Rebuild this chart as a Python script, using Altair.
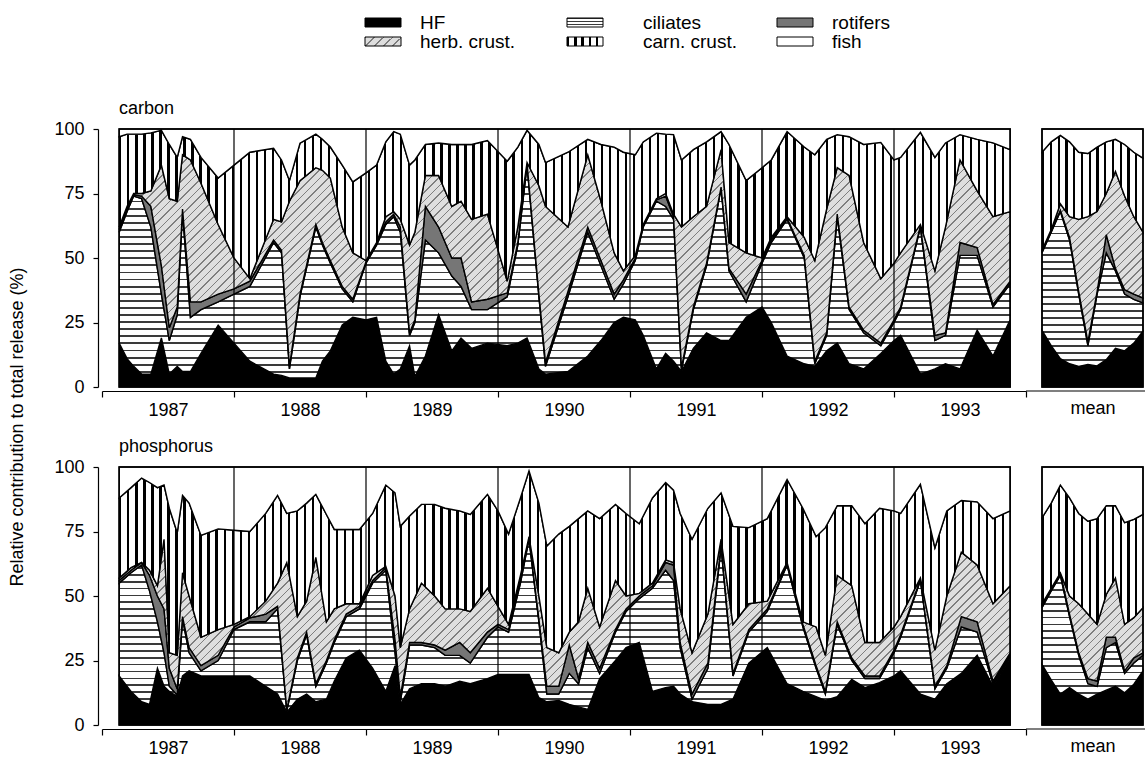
import math
import altair as alt
import pandas as pd

NAMES = ["HF", "ciliates", "rotifers", "herb. crust.", "carn. crust.", "fish"]

# ---------------- carbon: sampling dates (decimal years) and cumulative tops (%) ----------------
c_t = [1987.13, 1987.19, 1987.24, 1987.30, 1987.37, 1987.45, 1987.51, 1987.57, 1987.61, 1987.67, 1987.75, 1987.88,
       1988.00, 1988.12, 1988.30, 1988.36, 1988.42, 1988.50, 1988.62, 1988.67, 1988.73, 1988.82, 1988.90,
       1989.00, 1989.08, 1989.15, 1989.21, 1989.26, 1989.33, 1989.37, 1989.45, 1989.55, 1989.65, 1989.72, 1989.80, 1989.92,
       1990.07, 1990.15, 1990.22, 1990.31, 1990.36, 1990.53, 1990.68, 1990.78, 1990.88, 1990.95,
       1991.04, 1991.10, 1991.20, 1991.27, 1991.33, 1991.39, 1991.48, 1991.58, 1991.69, 1991.75, 1991.88,
       1992.00, 1992.07, 1992.19, 1992.32, 1992.40, 1992.49, 1992.57, 1992.66, 1992.77, 1992.90,
       1993.00, 1993.05, 1993.20, 1993.31, 1993.39, 1993.50, 1993.63, 1993.75, 1993.88]
c_hf = [17, 11, 8, 5, 5, 19, 5, 8, 6, 6, 13, 24,
        17, 10, 5, 4.5, 3.5, 3.5, 3.5, 10, 14, 24, 27,
        26, 27, 10, 5, 7, 16, 4, 12, 28, 14, 19, 15, 17,
        16, 17, 19, 7, 5, 6, 12, 18, 25, 27,
        26, 20, 7, 13, 10, 6, 15, 21, 18, 18, 27,
        31, 25, 12, 9, 8, 14, 17, 9, 7, 13,
        18, 20, 5, 7, 9, 7, 22, 12, 26]
c_cil = [60, 68, 74, 73, 62, 36, 18, 28, 68, 27, 30, 33,
         36, 39, 56, 52, 7, 35, 62, 55, 48, 38, 33,
         48, 55, 63, 66, 60, 20, 25, 57, 52, 43, 39, 30, 30,
         35, 55, 86, 35, 8, 35, 60, 47, 34, 40,
         49, 62, 72, 70, 65, 6.5, 30, 47, 77, 45, 33,
         48, 56, 65, 50, 9, 20, 66, 30, 21, 16,
         25, 30, 62, 18, 20, 51, 51, 31, 40]
c_rot = [61, 69, 74.5, 74, 70, 47, 23, 31, 69, 33, 33, 36,
         38, 41, 57, 53, 8, 36, 63, 56, 49, 39, 34,
         48.5, 55.5, 64, 67, 62, 21, 26, 70, 62, 50, 50, 33, 34,
         36.5, 56, 86.5, 36, 9.5, 37, 62, 49, 36, 41.5,
         50, 62.5, 72.5, 74, 66, 7.5, 31, 48, 77.5, 46, 36,
         49, 57, 65.5, 51, 10, 21, 67, 31, 22, 17,
         26, 31, 62.5, 20, 21, 56, 54, 32, 41]
c_herb = [62, 70, 75, 75, 76, 86, 73, 72, 90, 88, 79, 63,
          50, 42, 65, 64, 72, 80, 85, 84, 81, 62, 52,
          49, 56, 66, 68, 65, 55, 60, 82, 82, 70, 72, 65, 67,
          41, 62, 87, 78, 70, 62, 90, 72, 52, 45,
          51, 63, 73, 75, 67, 62, 66, 70, 92, 56, 52,
          50, 58, 66, 58, 49, 69, 85, 82, 56, 42,
          48, 52, 63, 45, 62, 88, 76, 66, 68]
c_carn = [97, 98, 98, 98, 98.5, 99.5, 94, 89, 97, 96, 89, 81,
          86, 91, 92.5, 88, 80, 94.5, 98, 96, 93, 86, 79.5,
          83, 86, 95, 99, 98, 86, 88, 94, 94.6, 94, 94, 94, 95.5,
          87.5, 93, 99.5, 94, 87, 91, 96, 94, 93, 91,
          90, 95, 98.4, 98, 97.8, 88, 92, 95, 99, 94, 80,
          85, 88, 99, 93, 90, 96, 97.8, 97, 94, 94.8,
          88, 89, 98.7, 89, 94.6, 97.8, 96, 94.6, 92]

# ---------------- phosphorus ----------------
p_t = [1987.13, 1987.22, 1987.30, 1987.36, 1987.42, 1987.47, 1987.51, 1987.57, 1987.61, 1987.66, 1987.75, 1987.88,
       1988.00, 1988.12, 1988.24, 1988.33, 1988.40, 1988.48, 1988.55, 1988.62, 1988.70, 1988.76, 1988.85, 1988.95,
       1989.05, 1989.15, 1989.22, 1989.26, 1989.33, 1989.42, 1989.52, 1989.60, 1989.71, 1989.79, 1989.92,
       1990.00, 1990.08, 1990.17, 1990.235, 1990.31, 1990.37, 1990.46, 1990.54, 1990.61, 1990.68, 1990.77, 1990.89, 1990.97,
       1991.07, 1991.17, 1991.27, 1991.33, 1991.38, 1991.47, 1991.59, 1991.69, 1991.78, 1991.90,
       1992.04, 1992.19, 1992.31, 1992.41, 1992.48, 1992.57, 1992.68, 1992.78, 1992.89,
       1993.00, 1993.05, 1993.20, 1993.31, 1993.40, 1993.51, 1993.63, 1993.75, 1993.88]
p_hf = [19, 13, 9, 8, 22, 15, 13, 11, 19, 21, 19, 19,
        19, 19, 15, 12, 5, 10, 12, 9, 10, 17, 26, 29,
        22, 13, 23, 8, 14, 16, 16, 15, 17, 16, 18,
        19.6, 19.6, 19.6, 19.6, 10.6, 9, 9.5, 8, 7, 6, 18, 25, 30,
        32, 13, 14.5, 15, 12, 9, 8, 8, 10, 24,
        30, 16, 13, 11, 9.5, 11, 17.7, 14.5, 16.4,
        19, 21, 12, 10, 16, 20, 27, 15, 26]
p_cil = [55, 59, 62, 52, 40, 28, 15, 11.5, 41, 28, 21, 25,
         37, 40, 40, 45, 5.5, 25, 35, 15, 24, 32, 42, 45,
         55, 60, 28, 9, 31, 31, 30, 27, 27, 24, 34,
         38, 36, 55, 72, 40, 12, 12, 20, 16, 30, 20, 36, 44,
         49, 53, 60, 56, 30, 10, 22, 69, 19, 36,
         44, 62, 38, 22, 12, 39, 25, 18, 18,
         28, 34, 56, 14, 22, 38, 36, 16, 27]
p_rot = [56, 60, 63, 58, 50, 45, 22, 14, 42, 30, 23, 27,
         38, 41.5, 43, 46, 6, 26, 36, 16, 25, 33, 43, 46,
         56, 61, 33, 11, 32, 32, 31, 29, 32, 28, 36,
         39, 37, 56, 72.5, 41, 15, 15, 31, 18, 32, 22, 37, 45,
         50, 54, 63, 62, 32, 12, 24, 70, 20, 37,
         45, 62.5, 39, 23, 13, 40, 26, 19, 19,
         29, 35, 56.5, 15, 23, 42, 40, 17, 28]
p_herb = [57, 61, 63, 60, 54, 72, 28, 27, 59, 50, 34, 37,
          39, 42, 48, 55, 63, 42, 48, 65, 40, 45, 47, 47,
          58, 61.5, 50, 30, 45, 55, 50, 45, 45, 44, 53,
          46, 39, 58, 73, 50, 30, 28, 36, 40, 53, 38, 56, 50,
          51, 55, 64, 63, 45, 28, 43, 72, 39, 47,
          48, 63, 40, 38, 27, 58, 54, 32, 32,
          38, 42, 57, 29, 50, 67, 62, 47, 54]
p_carn = [88, 92, 95.7, 94, 92, 93, 84, 74.5, 89, 86, 73.5, 76,
          75.5, 75, 82, 89, 82, 83, 86, 89.4, 81.6, 75.8, 75.8, 75.8,
          82, 93, 90, 77, 81, 85.5, 85.5, 84, 83, 81.6, 89.4,
          83, 74, 88, 98.5, 86, 69.4, 74, 77, 80, 83, 80, 85.5, 82,
          78, 88, 94, 91, 82, 72, 84, 90, 77, 76.5,
          80, 95.2, 84, 73, 76.5, 85, 85, 78, 84,
          83, 82, 93.3, 68.7, 83, 87, 86.5, 80, 83]

# ---------------- monthly means ----------------
months = [1, 2, 3, 4, 5, 6, 7, 8, 9, 10, 11, 12]
cm_hf = [22, 16, 11, 9, 8, 8.7, 8.2, 10.6, 15, 14, 17, 21.6]
cm_cil = [52, 60, 68, 57, 36, 16, 36, 52, 45, 36, 34, 32.6]
cm_rot = [52.5, 60.5, 68.5, 58, 37, 17.5, 37, 59, 46, 37.7, 36, 34.5]
cm_herb = [53, 61, 71, 66, 65, 66, 68, 75, 83.6, 74, 66, 60]
cm_carn = [91, 95, 97.5, 95, 91, 90.5, 93, 95, 96, 94, 91, 88.7]

pm_hf = [23.5, 17.5, 12, 14.5, 12, 10, 12, 13.5, 15, 12.5, 15.8, 21]
pm_cil = [45.5, 52, 58, 42, 27, 16, 15, 30, 32, 20, 24, 27]
pm_rot = [46, 52.5, 59, 43, 28, 18, 17, 34, 34, 21, 26, 28]
pm_herb = [47, 53, 59, 50, 47, 43, 39, 50.6, 57, 39, 41.6, 45.5]
pm_carn = [80.3, 86, 93, 88, 82, 79, 80, 85, 85, 78.4, 79.7, 81.6]

YEARS = [1987, 1988, 1989, 1990, 1991, 1992, 1993, 1994]

# ---------------- layout / style ----------------
FONT = "Liberation Sans"
MAIN_W, MEAN_W, H = 924, 101, 258
PX_PER_YEAR = MAIN_W / 7.0
ONE = pd.DataFrame({"k": [0]})
EDGE = 1.4


def stripe_stops(n, frac, c_line, c_bg):
    stops = []
    for k in range(n):
        a, b, c = k / n, (k + frac) / n, (k + 1) / n
        stops += [(a, c_line), (b, c_line), (b, c_bg), (c, c_bg)]
    return [alt.GradientStop(offset=round(o, 6), color=col) for o, col in stops]


def pattern(name, w, h, small=False):
    if name == "HF":
        return "#000000"
    if name == "fish":
        return "#ffffff"
    if name == "rotifers":
        return "#767676"
    if name == "ciliates":
        per = 3.0 if small else 7.0
        n = max(1, round(h / per))
        return alt.LinearGradient(gradient="linear",
                                  stops=stripe_stops(n, 1.1 / per if small else 1.8 / per, "#3a3a3a", "#ffffff"),
                                  x1=0, y1=0, x2=0, y2=1)
    if name == "carn. crust.":
        per = 7.0 if small else 8.0
        n = max(1, round(w / per))
        return alt.LinearGradient(gradient="linear", stops=stripe_stops(n, 2.3 / per, "#000000", "#ffffff"),
                                  x1=0, y1=0, x2=1, y2=0)
    # herb. crust. : diagonal "/" hatching on light grey
    d = (w + h) / math.sqrt(2)
    n = max(1, round(d / 6.0))
    k = (w + h) / (w * w + h * h)
    return alt.LinearGradient(gradient="linear", stops=stripe_stops(n, 1.1 / 6.0, "#7e7e7e", "#dedede"),
                              x1=0, y1=0, x2=round(w * k, 5), y2=round(h * k, 5))


def panel(t, tops, is_mean, title=None, legend=False, ytitle=False):
    bounds = [0] + [list(b) for b in tops] + [[100] * len(t)]
    if is_mean:
        xscale = alt.Scale(domain=[1, 12], nice=False, zero=False)
        xaxis = alt.Axis(values=[6.5], labelExpr="'mean'", ticks=False, offset=4, grid=False, title=None,
                         domain=False, labelFontSize=18, labelPadding=8, labelColor="black", labelFont=FONT)
        px_per = MEAN_W / 11.0
    else:
        xscale = alt.Scale(domain=[1987, 1994], nice=False, zero=False)
        xaxis = alt.Axis(values=YEARS, format="d", labelExpr="datum.value < 1994 ? datum.label : ''",
                         labelOffset=66, tickSize=6, offset=4, grid=False, title=None, labelFontSize=18,
                         labelPadding=4, labelOverlap=False, labelFlush=False, domainWidth=1.2, tickWidth=1.2,
                         domainColor="black", tickColor="black", labelColor="black", labelFont=FONT)
        px_per = PX_PER_YEAR
    yscale = alt.Scale(domain=[0, 100], nice=False, zero=True)
    if is_mean:
        yaxis = None
    else:
        yaxis = alt.Axis(values=[0, 25, 50, 75, 100], tickSize=5, offset=4, grid=False, title=None,
                         labelFontSize=18, labelPadding=9, domainWidth=1.2, tickWidth=1.2,
                         domainColor="black", tickColor="black", labelColor="black", labelFont=FONT)
    X = alt.X("t:Q", scale=xscale, axis=xaxis)
    layers = []
    for i, name in enumerate(NAMES):
        lo = bounds[i] if i > 0 else [0] * len(t)
        hi = bounds[i + 1]
        lo = [min(a, b) for a, b in zip(lo, hi)]
        df = pd.DataFrame({"t": t, "lo": lo, "hi": hi})
        w = (max(t) - min(t)) * px_per
        h = max(1.0, (max(hi) - min(lo)) / 100.0 * H)
        layers.append(
            alt.Chart(df).mark_area(fill=pattern(name, w, h), stroke="black", strokeWidth=EDGE,
                                    strokeJoin="miter", interpolate="linear")
            .encode(x=X, y=alt.Y("hi:Q", scale=yscale, axis=yaxis), y2="lo:Q")
        )
    if not is_mean:
        rules = pd.DataFrame({"t": YEARS[1:-1], "lo": [0] * 6, "hi": [100] * 6})
        layers.append(alt.Chart(rules).mark_rule(color="black", strokeWidth=1.2)
                      .encode(x=X, y=alt.Y("hi:Q", scale=yscale, axis=yaxis), y2="lo:Q"))
    else:
        # continuation of the shared x-axis line under the mean panel
        layers.append(alt.Chart(ONE).mark_rule(color="black", strokeWidth=1.2)
                      .encode(x=alt.value(-16), x2=alt.value(MEAN_W + 2), y=alt.value(H + 4)))
    box = pd.DataFrame({"t": [min(t)], "t1": [max(t)], "lo": [0], "hi": [100]})
    layers.append(alt.Chart(box).mark_rect(fillOpacity=0, stroke="black", strokeWidth=1.5)
                  .encode(x=X, x2="t1:Q", y=alt.Y("hi:Q", scale=yscale, axis=yaxis), y2="lo:Q"))
    if title:
        layers.append(alt.Chart(ONE).mark_text(text=title, align="left", baseline="alphabetic", fontSize=18,
                                               font=FONT, color="black")
                      .encode(x=alt.value(17), y=alt.value(-15)))
    if ytitle:
        layers.append(alt.Chart(ONE).mark_text(text="Relative contribution to total release (%)", angle=270,
                                               align="center", baseline="middle", fontSize=18, font=FONT,
                                               color="black")
                      .encode(x=alt.value(-84), y=alt.value(298)))
    if legend:
        cols = [(263, 318), (465, 541), (675, 730)]
        rows = [(-111, -102, -106.5), (-92, -83, -87.5)]
        order = [["HF", "herb. crust."], ["ciliates", "carn. crust."], ["rotifers", "fish"]]
        for ci, (sx, lx) in enumerate(cols):
            for ri, (y0, y1, yc) in enumerate(rows):
                name = order[ci][ri]
                sw = 36
                layers.append(alt.Chart(ONE).mark_rect(fill=pattern(name, sw, y1 - y0, small=True),
                                                       stroke="black", strokeWidth=1)
                              .encode(x=alt.value(sx), x2=alt.value(sx + sw), y=alt.value(y0), y2=alt.value(y1)))
                layers.append(alt.Chart(ONE).mark_text(text=name, align="left", baseline="middle", fontSize=19,
                                                       font=FONT, color="black")
                              .encode(x=alt.value(lx), y=alt.value(yc)))
    return alt.layer(*layers).properties(width=MEAN_W if is_mean else MAIN_W, height=H)


c_main = panel(c_t, [c_hf, c_cil, c_rot, c_herb, c_carn], False, title="carbon", legend=True, ytitle=True)
c_mean = panel(months, [cm_hf, cm_cil, cm_rot, cm_herb, cm_carn], True)
p_main = panel(p_t, [p_hf, p_cil, p_rot, p_herb, p_carn], False, title="phosphorus")
p_mean = panel(months, [pm_hf, pm_cil, pm_rot, pm_herb, pm_carn], True)

chart = (
    alt.concat(c_main, c_mean, p_main, p_mean, columns=2,
               spacing=alt.RowColnumber(row=80, column=16), bounds="flush")
    .properties(padding={"left": 9, "top": 13, "right": 0, "bottom": 2}, background="white")
    .configure_view(strokeWidth=0)
)

chart.save("out.html", embed_options={"renderer": "svg", "actions": False})
